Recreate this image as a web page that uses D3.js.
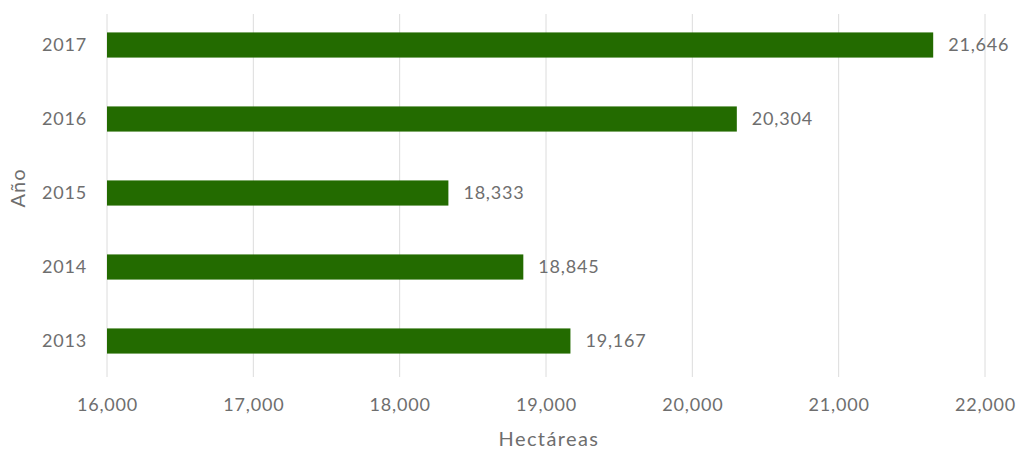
<!DOCTYPE html>
<html>
<head>
<meta charset="utf-8">
<script src="https://cdn.jsdelivr.net/npm/d3@7"></script>
<style>
  html, body { margin: 0; padding: 0; background: #ffffff; }
  svg { display: block; font-family: Lato, "Open Sans", sans-serif; }
</style>
</head>
<body>
<svg id="chart" width="1029" height="451"></svg>
<script>
// Cultivated area by year (hectares)
const years = ["2017", "2016", "2015", "2014", "2013"];
const hectares = [21646, 20304, 18333, 18845, 19167];
const xTicks = [16000, 17000, 18000, 19000, 20000, 21000, 22000];

const svg = d3.select("#chart");
const plot = { left: 107, right: 985, top: 8, bottom: 378 };

const x = d3.scaleLinear().domain([16000, 22000]).range([plot.left, plot.right]);
const y = d3.scaleBand().domain(years).range([plot.top, plot.bottom])
  .paddingInner(0.66).paddingOuter(0.33);

const fmt = d3.format(",");
const textColor = "#6e6e6e";
const labelSize = 18;
const labelSpacing = "0.8px";

// vertical gridlines
svg.append("g").selectAll("line").data(xTicks).join("line")
  .attr("x1", d => x(d)).attr("x2", d => x(d))
  .attr("y1", 14).attr("y2", 377)
  .attr("stroke", "#dcdcdc").attr("stroke-width", 1);

// x axis tick labels
const xAxis = d3.axisBottom(x).tickValues(xTicks).tickFormat(fmt).tickSize(0).tickPadding(0);
const gx = svg.append("g").attr("transform", "translate(0,398)").call(xAxis);
gx.select(".domain").remove();
gx.selectAll("text").attr("fill", textColor).attr("font-size", labelSize)
  .attr("letter-spacing", labelSpacing).attr("font-family", "Lato, sans-serif");

// y axis labels
const yAxis = d3.axisLeft(y).tickSize(0).tickPadding(0);
const gy = svg.append("g").attr("transform", "translate(87,0)").call(yAxis);
gy.select(".domain").remove();
gy.selectAll("text").attr("fill", textColor).attr("font-size", labelSize)
  .attr("letter-spacing", labelSpacing).attr("font-family", "Lato, sans-serif");

// bars
svg.append("g").selectAll("rect").data(years).join("rect")
  .attr("x", x(16000))
  .attr("y", d => y(d))
  .attr("width", (d, i) => x(hectares[i]) - x(16000))
  .attr("height", y.bandwidth())
  .attr("fill", "#236b00");

// value labels
svg.append("g").selectAll("text").data(years).join("text")
  .attr("x", (d, i) => x(hectares[i]) + 15)
  .attr("y", d => y(d) + y.bandwidth() / 2)
  .attr("dy", "0.35em")
  .attr("fill", textColor)
  .attr("font-size", labelSize)
  .attr("letter-spacing", labelSpacing)
  .text((d, i) => fmt(hectares[i]));

// axis titles
svg.append("text")
  .attr("x", 549).attr("y", 446)
  .attr("text-anchor", "middle")
  .attr("fill", textColor).attr("font-size", 20).attr("letter-spacing", "1.4px")
  .text("Hectáreas");

svg.append("text")
  .attr("transform", "translate(25,188) rotate(-90)")
  .attr("text-anchor", "middle")
  .attr("fill", textColor).attr("font-size", 20).attr("letter-spacing", "1px")
  .text("Año");
</script>
</body>
</html>
